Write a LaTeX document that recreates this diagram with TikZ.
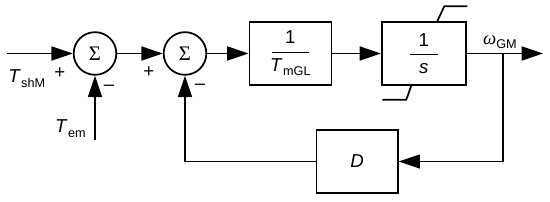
\documentclass[tikz,border=0pt]{standalone}
\usepackage{amsmath}
\usepackage{fontspec}
\setmainfont{Liberation Sans}
\newfontfamily\serifsym{Liberation Serif}
\usepackage{tikz}
\usetikzlibrary{arrows.meta,positioning,calc}

\newcommand{\varsub}[2]{\textit{#1}\kern0.3pt\raisebox{-0.45ex}{\fontsize{9.5}{10}\selectfont #2}}
\newcommand{\blockfrac}[3]{$\dfrac{\makebox[#3]{#1}}{\rule{0pt}{12.5pt}\makebox[#3]{#2}}$}

\begin{document}
\begin{tikzpicture}[x=0.75pt, y=-0.75pt,
    sumnode/.style = {circle, draw, line width=1.3pt, minimum size=32pt,
                      inner sep=0pt, font=\serifsym\fontsize{15.5}{16}\selectfont},
    blk/.style     = {rectangle, draw, line width=1.3pt, minimum width=61.5pt,
                      minimum height=47pt, inner sep=0pt, align=center},
    arr/.style     = {-{Triangle[length=16pt,width=10.5pt]}, line width=1.3pt},
    wire/.style    = {line width=1.3pt},
    sign/.style    = {inner sep=0pt},
    font=\fontsize{14}{16.8}\selectfont
  ]
    \useasboundingbox (0,0) rectangle (550,202);

    \node[sumnode] (sumA) at (95,53.5) {Σ};
    \node[sumnode, right=34.2pt of sumA] (sumB) {Σ};
    \node[blk, right=31pt of sumB] (gain) {\blockfrac{1}{\varsub{T}{mGL}}{28pt}};
    \node[blk, minimum width=63pt, right=36.5pt of gain] (integ) {\blockfrac{1}{\textit{s}}{21pt}};
    \node[blk, minimum width=61pt, yshift=-81pt] (damp) at ($(gain)!0.5!(integ)$) {\textit{D}};

    \coordinate (src)    at (7,53.5);
    \coordinate (temsrc) at (95,140);
    \coordinate (branch) at (503,53.5);
    \coordinate (out)    at (543,53.5);

    % saturation limits of the integrator
    \draw[wire] ($(integ.north)+(13.5,0)$) -- ++(7,-15) -- ++(23,0);
    \draw[wire] ($(integ.south)+(-12.5,0)$) -- ++(-5,14) -- ++(-24,0);

    \draw[arr] (src)    -- (sumA);
    \draw[arr] (temsrc) -- (sumA);
    \draw[arr] (sumA)   -- (sumB);
    \draw[arr] (sumB)   -- (gain);
    \draw[arr] (gain)   -- (integ);
    \draw[arr] (integ)  -- (out);
    \draw[arr] (branch) |- (damp);
    \draw[arr] (damp)   -| (sumB);

    \node[sign] (pA) at ($(sumA.west)+(-13,19.5)$) {+};
    \node[sign] (mA) at ($(sumA.south)+(14,12.5)$) {--};
    \node[sign] (pB) at ($(sumB.west)+(-14,18.5)$) {+};
    \node[sign] (mB) at ($(sumB.south)+(15,11.5)$) {--};

    \node[anchor=base west, inner sep=0pt] (tshm) at ($(src)+(1,29.5)$) {\varsub{T}{shM}};
    \node[anchor=base east, inner sep=0pt] (tem)  at ($(temsrc)+(-9,-7)$) {\varsub{T}{em}};
    \node[anchor=base, inner sep=0pt] (wgm) at ($(branch)+(-3,-9)$) {{\serifsym\itshape ω}\raisebox{-0.4ex}{\fontsize{9.5}{10}\selectfont GM}};
\end{tikzpicture}
\end{document}
